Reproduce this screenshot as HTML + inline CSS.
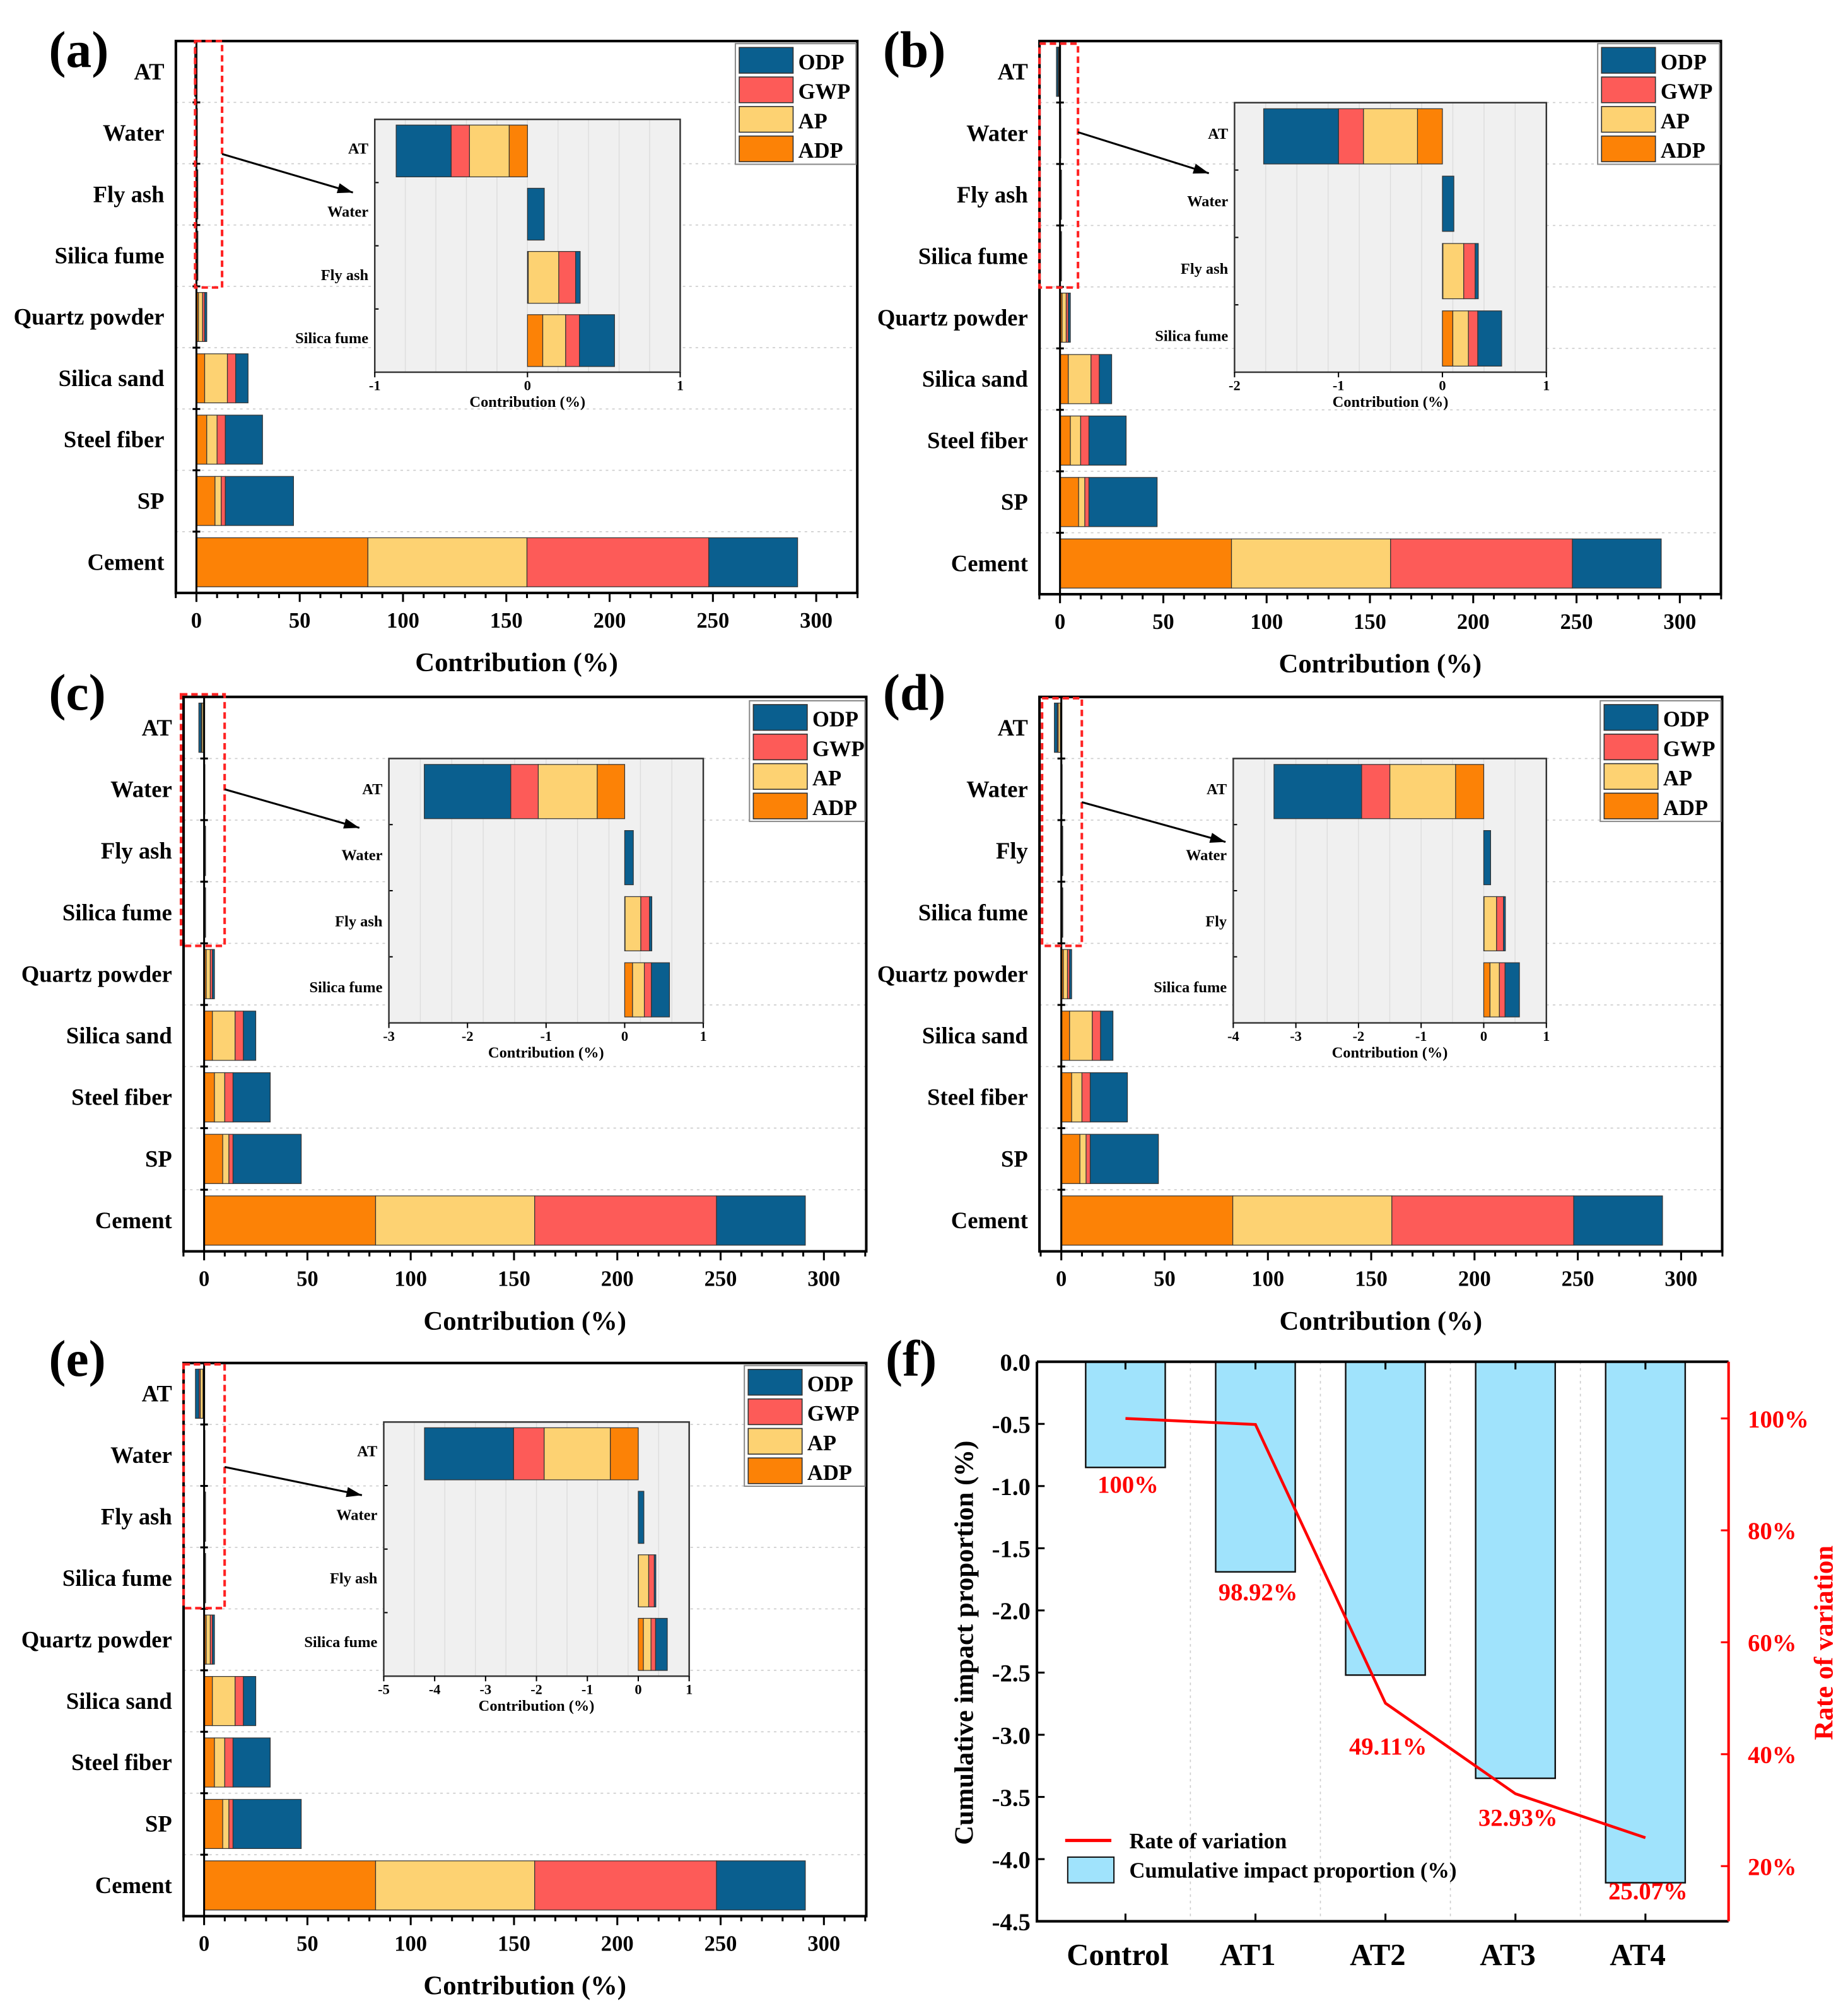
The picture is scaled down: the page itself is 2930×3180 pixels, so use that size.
<!DOCTYPE html>
<html><head><meta charset="utf-8"><style>
html,body{margin:0;padding:0;background:#fff}
svg{display:block;font-family:"Liberation Serif",serif;font-weight:bold}
</style></head><body>
<svg id="root" width="2930" height="3180" viewBox="0 0 1440 1563" xmlns="http://www.w3.org/2000/svg"></svg>
<script>
const cats = ['AT','Water','Fly ash','Silica fume','Quartz powder','Silica sand','Steel fiber','SP','Cement'];
const adpVals = [0,0,0.005,0.1,1,4,5,9,83];
const apVals = [0,0,0.2,0.15,2,11,5,3,77];
const gwpVals = [0,0,0.11,0.09,1,4,4,2,88];
const odpVals = [0,0.11,0.03,0.23,1,6,18,33,43];
const atAdp = [-0.12,-0.24,-0.35,-0.45,-0.55];
const atAp = [-0.26,-0.52,-0.75,-1.05,-1.3];
const atGwp = [-0.12,-0.24,-0.35,-0.45,-0.6];
const atOdp = [-0.36,-0.72,-1.1,-1.4,-1.75];
const mainTicks = [0,50,100,150,200,250,300];
const fCats = ['Control','AT1','AT2','AT3','AT4'];
const fBars = [-0.85,-1.69,-2.52,-3.35,-4.19];
const fRate = [100,98.92,49.11,32.93,25.07];
const fRateLabels = ['100%','98.92%','49.11%','32.93%','25.07%'];
const fLeftTicks = [0,-0.5,-1,-1.5,-2,-2.5,-3,-3.5,-4,-4.5];
const fRightTicks = [20,40,60,80,100];

const NS='http://www.w3.org/2000/svg';
const root=document.getElementById('root');
function mk(tag,attrs,parent,text){const e=document.createElementNS(NS,tag);for(const k in attrs)e.setAttribute(k,attrs[k]);if(text!==undefined)e.textContent=text;(parent||root).appendChild(e);return e;}
const COL={ODP:'#0a5f8f',GWP:'#fd5b58',AP:'#fdd272',ADP:'#fc8206'};

const panels=[
 {id:'a',frame:[137,32,668,462],x0:153,lab:[38,52],leg:[573,34],rect:[152,32,173,224],arrow:[173,120,275,150],inset:[292,93,530,290],imin:-1,imax:1,fly:'Fly ash'},
 {id:'b',frame:[810,32,1341,463],x0:826,lab:[688,52],leg:[1245,34],rect:[810,34,840,224],arrow:[840,103,942,135],inset:[962,80,1205,290],imin:-2,imax:1,fly:'Fly ash'},
 {id:'c',frame:[143,543,675,975],x0:159,lab:[38,553],leg:[584,546],rect:[141,541,175,737],arrow:[175,615,280,645],inset:[303,591,548,797],imin:-3,imax:1,fly:'Fly ash'},
 {id:'d',frame:[810,543,1342,975],x0:827,lab:[688,553],leg:[1247,546],rect:[812,544,843,737],arrow:[843,625,955,656],inset:[961,591,1205,797],imin:-4,imax:1,fly:'Fly'},
 {id:'e',frame:[143,1062,675,1493],x0:159,lab:[38,1072],leg:[580,1064],rect:[143,1063,175,1253],arrow:[175,1143,282,1165],inset:[299,1108,537,1306],imin:-5,imax:1,fly:'Fly ash'}
];
const K=1.61;

panels.forEach((p,pi)=>{
 const g=mk('g',{});
 
 
 const [L,T,R,B]=p.frame;
 const xs=v=>p.x0+v*K;
 const rh=(B-T)/9;
 const yc=i=>T+(i+0.5)*rh;
 const pl=mk('text',{x:p.lab[0],y:p.lab[1],'font-size':40},g,'('+p.id+')');
 
 
 for(let i=1;i<9;i++){const gl=mk('line',{x1:L,x2:R,y1:T+i*rh,y2:T+i*rh,stroke:'#ccc','stroke-width':0.8,'stroke-dasharray':'2,3'},g);
  
  }
 cats.forEach((c,i)=>{
  const labs=c==='Fly ash'?p.fly:c;
  const t=mk('text',{x:L-9,y:yc(i)+6,'font-size':18,'text-anchor':'end'},g,labs);
  
  
  let segs;
  if(i===0) segs=[['ADP',atAdp[pi]],['AP',atAp[pi]],['GWP',atGwp[pi]],['ODP',atOdp[pi]]];
  else segs=[['ADP',adpVals[i]],['AP',apVals[i]],['GWP',gwpVals[i]],['ODP',odpVals[i]]];
  let acc=0;
  segs.forEach(([k,v])=>{const a=xs(acc),b=xs(acc+v);acc+=v;
   const r=mk('rect',{x:Math.min(a,b),y:yc(i)-rh*0.4,width:Math.max(Math.abs(b-a),0.6),height:rh*0.8,fill:COL[k],stroke:'#333','stroke-width':0.6},g);
   
   });
 });
 const za=mk('line',{x1:xs(0),x2:xs(0),y1:T,y2:B,stroke:'#000','stroke-width':1.5},g);
 
 
 for(let i=1;i<9;i++){const tk=mk('line',{x1:xs(0)-3,x2:xs(0)+3,y1:T+i*rh,y2:T+i*rh,stroke:'#000','stroke-width':1.5},g);
  
  }
 const fr=mk('rect',{x:L,y:T,width:R-L,height:B-T,fill:'none',stroke:'#000','stroke-width':2},g);
 
 
 for(let v=-10;v<=320;v+=10){const mj=v%50===0;
  const tk=mk('line',{x1:xs(v),x2:xs(v),y1:B,y2:B+(mj?7:4),stroke:'#000','stroke-width':1.5},g);
  
  }
 mainTicks.forEach(v=>{const t=mk('text',{x:xs(v),y:B+27,'font-size':17,'text-anchor':'middle'},g,String(v));
  
  });
 const xt=mk('text',{x:(L+R)/2,y:B+61,'font-size':21,'text-anchor':'middle'},g,'Contribution (%)');
 
 
 const lg=mk('g',{},g);
 
 
 const [lx,ly]=p.leg;
 const lb=mk('rect',{x:lx,y:ly,width:R-lx-1,height:94,fill:'#fff',stroke:'#888','stroke-width':1},lg);
 
 
 ['ODP','GWP','AP','ADP'].forEach((k,j)=>{
  const s=mk('rect',{x:lx+3,y:ly+3+j*23,width:42,height:20,fill:COL[k],stroke:'#333','stroke-width':0.8},lg);
  
  
  const t=mk('text',{x:lx+49,y:ly+20+j*23,'font-size':17},lg,k);
  
  });
 const rr=mk('rect',{x:p.rect[0],y:p.rect[1],width:p.rect[2]-p.rect[0],height:p.rect[3]-p.rect[1],fill:'none',stroke:'#f22','stroke-width':2,'stroke-dasharray':'5,3'},g);
 
 
 const [a1,a2,a3,a4]=p.arrow;
 const ar=mk('line',{x1:a1,y1:a2,x2:a3,y2:a4,stroke:'#000','stroke-width':1.5},g);
 
 
 const ang=Math.atan2(a4-a2,a3-a1);
 const ah=mk('polygon',{points:`${a3},${a4} ${a3-12*Math.cos(ang)+4*Math.sin(ang)},${a4-12*Math.sin(ang)-4*Math.cos(ang)} ${a3-12*Math.cos(ang)-4*Math.sin(ang)},${a4-12*Math.sin(ang)+4*Math.cos(ang)}`,fill:'#000'},g);
 
 
 const ig=mk('g',{},g);
 
 
 const [IL,IT,IR,IB]=p.inset;
 const ix=v=>IL+(v-p.imin)/(p.imax-p.imin)*(IR-IL);
 const irh=(IB-IT)/4;
 const ibg=mk('rect',{x:IL,y:IT,width:IR-IL,height:IB-IT,fill:'#f0f0f0'},ig);
 
 
 const step=(p.imax-p.imin)/10;
 for(let v=p.imin+step;v<p.imax-1e-6;v+=step){const gl=mk('line',{x1:ix(v),x2:ix(v),y1:IT,y2:IB,stroke:'#ddd','stroke-width':0.7},ig);
  
  }
 for(let i=0;i<4;i++){
  const lab=i===2?p.fly:cats[i];
  const t=mk('text',{x:IL-5,y:IT+(i+0.5)*irh+2,'font-size':12,'text-anchor':'end'},ig,lab);
  
  
  let segs;
  if(i===0) segs=[['ADP',atAdp[pi]],['AP',atAp[pi]],['GWP',atGwp[pi]],['ODP',atOdp[pi]]];
  else segs=[['ADP',adpVals[i]],['AP',apVals[i]],['GWP',gwpVals[i]],['ODP',odpVals[i]]];
  let acc=0;const cy=IT+(i+0.5)*irh;
  segs.forEach(([k,v])=>{if(v===0)return;const a=ix(acc),b=ix(acc+v);acc+=v;
   const r=mk('rect',{x:Math.min(a,b),y:cy-irh*0.41,width:Math.abs(b-a),height:irh*0.82,fill:COL[k],stroke:'#333','stroke-width':0.6},ig);
   
   });
  if(i>0){const tk=mk('line',{x1:IL,x2:IL+3,y1:IT+i*irh,y2:IT+i*irh,stroke:'#000'},ig);
   
   }
 }
 const ifr=mk('rect',{x:IL,y:IT,width:IR-IL,height:IB-IT,fill:'none',stroke:'#333','stroke-width':1.2},ig);
 
 
 for(let v=p.imin;v<=p.imax;v++){
  const tk=mk('line',{x1:ix(v),x2:ix(v),y1:IB,y2:IB+4,stroke:'#000'},ig);
  
  
  const t=mk('text',{x:ix(v),y:IB+14,'font-size':11,'text-anchor':'middle'},ig,String(v));
  
  }
 const it=mk('text',{x:(IL+IR)/2,y:IB+27,'font-size':12,'text-anchor':'middle'},ig,'Contribution (%)');
 
 
});

(function(){
 const g=mk('g',{});
 
 
 const L=808,R=1347,T=1061,B=1497;
 const ys=v=>T+(-v)/4.5*(B-T);
 const yr=v=>1454-(v-20)*4.36;
 const xc=i=>877+i*101.3;
 const pl=mk('text',{x:690,y:1072,'font-size':40},g,'(f)');
 
 
 for(let i=0;i<4;i++){const gl=mk('line',{x1:xc(i)+50.6,x2:xc(i)+50.6,y1:T,y2:B,stroke:'#ccc','stroke-width':0.8,'stroke-dasharray':'2,3'},g);
  
  }
 fCats.forEach((c,i)=>{
  const r=mk('rect',{x:xc(i)-31,y:T,width:62,height:ys(fBars[i])-T,fill:'#a0e3fc',stroke:'#111','stroke-width':1.2},g);
  
  
  const t=mk('text',{x:xc(i)-6,y:B+34,'font-size':24,'text-anchor':'middle'},g,c);
  
  
  const tk=mk('line',{x1:xc(i),x2:xc(i),y1:T,y2:T+6,stroke:'#000','stroke-width':1.5},g);
  
  
  const tk2=mk('line',{x1:xc(i),x2:xc(i),y1:B,y2:B-6,stroke:'#000','stroke-width':1.5},g);
  
  
 });
 const pts=fRate.map((v,i)=>`${xc(i)},${yr(v)}`).join(' ');
 const ln=mk('polyline',{points:pts,fill:'none',stroke:'#f00','stroke-width':2.2},g);
 
 
 const lblOff=[58,137,40,25,48];
 fRateLabels.forEach((s,i)=>{const t=mk('text',{x:xc(i)+2,y:yr(fRate[i])+lblOff[i],'font-size':19,'text-anchor':'middle',fill:'#f00'},g,s);
  
  });
 const ax=mk('path',{d:`M${L},${T}V${B}H${R}M${L},${T}H${R}`,fill:'none',stroke:'#000','stroke-width':2},g);
 
 
 const rax=mk('line',{x1:R,x2:R,y1:T,y2:B,stroke:'#f00','stroke-width':2},g);
 
 
 fLeftTicks.forEach(v=>{
  const tk=mk('line',{x1:L,x2:L+6,y1:ys(v),y2:ys(v),stroke:'#000','stroke-width':1.5},g);
  
  
  const t=mk('text',{x:L-5,y:ys(v)+7,'font-size':19,'text-anchor':'end'},g,v.toFixed(1));
  
  });
 fRightTicks.forEach(v=>{
  const tk=mk('line',{x1:R,x2:R-6,y1:yr(v),y2:yr(v),stroke:'#f00','stroke-width':1.5},g);
  
  
  const t=mk('text',{x:R+15,y:yr(v)+7,'font-size':19,fill:'#f00'},g,v+'%');
  
  });
 const yl=mk('text',{x:0,y:0,'font-size':21,'text-anchor':'middle',transform:`translate(758,1280) rotate(-90)`},g,'Cumulative impact proportion (%)');
 
 
 const yr2=mk('text',{x:0,y:0,'font-size':21,'text-anchor':'middle',fill:'#f00',transform:`translate(1428,1280) rotate(-90)`},g,'Rate of variation');
 
 
 const l1=mk('line',{x1:830,x2:866,y1:1434,y2:1434,stroke:'#f00','stroke-width':2.5},g);
 
 
 const t1=mk('text',{x:880,y:1440,'font-size':17},g,'Rate of variation');
 
 
 const s2=mk('rect',{x:832,y:1447,width:36,height:20,fill:'#a0e3fc',stroke:'#111','stroke-width':1},g);
 
 
 const t2=mk('text',{x:880,y:1463,'font-size':17},g,'Cumulative impact proportion (%)');
 
 
})();
</script>
</body></html>
